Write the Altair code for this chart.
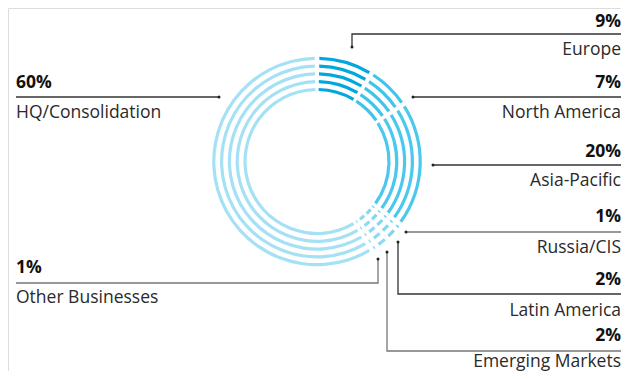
import altair as alt
import pandas as pd

# --- data ---
regions = ["Europe", "North America", "Asia-Pacific", "Russia/CIS",
           "Latin America", "Emerging Markets", "Other Businesses", "HQ/Consolidation"]
shares = [9, 7, 20, 1, 2, 2, 1, 60]
pct_labels = ["9%", "7%", "20%", "1%", "2%", "2%", "1%", "60%"]
seg_colors = ["#00a8de", "#3fc4ec", "#4ac8ee", "#6cd1f1", "#80d7f2", "#8cdbf3", "#98ddf4", "#a5e1f5"]

# --- layout (page pixel coordinates) ---
RX = 621  # right edge for right-aligned labels
label_side = ["right", "right", "right", "right", "right", "right", "left", "left"]
pct_y = [27, 88, 157, 222, 285, 341, 273, 88]
name_y = [55, 118, 186, 253, 316, 367, 303, 118]
leader_pts = [
    [(RX, 34), (352, 34), (352, 47)],
    [(RX, 97), (413, 97)],
    [(RX, 165), (433, 165)],
    [(RX, 232), (406, 232)],
    [(RX, 294), (398, 294), (398, 242)],
    [(RX, 351), (387, 351), (387, 252)],
    [(16, 283), (378, 283), (378, 259)],
    [(16, 97), (219, 97)],
]
leader_col = ["#333333", "#333333", "#333333", "#777777", "#333333", "#777777", "#777777", "#333333"]

W, H = 613, 363
cx, cy = 317 - 8, 161.5 - 8
ring_mid = [103.2, 95.4, 87.6, 79.8, 72.0]
ring_w = 3.2

seg = pd.DataFrame({"region": regions, "share": shares, "idx": list(range(len(regions)))})

xs = alt.Scale(domain=[8, 8 + W], range=[0, W], zero=False, nice=False)
ys = alt.Scale(domain=[8, 8 + H], range=[0, H], zero=False, nice=False)

layers = []
for r in ring_mid:
    layers.append(
        alt.Chart(seg).mark_arc(radius=r + ring_w / 2, radius2=r - ring_w / 2, padAngle=0.032)
        .encode(
            theta=alt.Theta("share:Q", stack=True),
            order=alt.Order("idx:Q"),
            color=alt.Color("region:N", scale=alt.Scale(domain=regions, range=seg_colors), legend=None),
            x=alt.value(cx), y=alt.value(cy),
        )
    )

lines = []
dots = []
for i, pts in enumerate(leader_pts):
    for j, (px, py) in enumerate(pts):
        lines.append({"region": regions[i], "seq": j, "x": px, "y": py, "col": leader_col[i]})
    dots.append({"region": regions[i], "x": pts[-1][0], "y": pts[-1][1]})
ldf = pd.DataFrame(lines)
ddf = pd.DataFrame(dots)

line_layer = alt.Chart(ldf).mark_line(strokeWidth=1.3).encode(
    x=alt.X("x:Q", scale=xs, axis=None),
    y=alt.Y("y:Q", scale=ys, axis=None),
    detail="region:N",
    order="seq:Q",
    color=alt.Color("col:N", scale=None),
)
dot_layer = alt.Chart(ddf).mark_circle(size=9, opacity=1, color="#222222").encode(
    x=alt.X("x:Q", scale=xs, axis=None),
    y=alt.Y("y:Q", scale=ys, axis=None),
)

tdf = pd.DataFrame({
    "region": regions, "pct": pct_labels, "side": label_side,
    "tx": [RX if s == "right" else 16 for s in label_side],
    "py": pct_y, "ny": name_y,
})

FONT = "Open Sans"
FS = 17.5
text_layers = []
for side in ["right", "left"]:
    base = alt.Chart(tdf).transform_filter(alt.datum.side == side)
    text_layers.append(
        base.mark_text(align=side, baseline="alphabetic", font=FONT, fontSize=FS,
                       fontWeight="bold", color="#111111")
        .encode(x=alt.X("tx:Q", scale=xs, axis=None), y=alt.Y("py:Q", scale=ys, axis=None), text="pct:N")
    )
    text_layers.append(
        base.mark_text(align=side, baseline="alphabetic", font=FONT, fontSize=FS,
                       color="#2a2a2a")
        .encode(x=alt.X("tx:Q", scale=xs, axis=None), y=alt.Y("ny:Q", scale=ys, axis=None), text="region:N")
    )

chart = alt.layer(*layers, line_layer, dot_layer, *text_layers).properties(
    width=W, height=H, padding=0, autosize=alt.AutoSizeParams(type="none")
).configure_view(stroke=None).configure(background="white")

chart.save("out.html", embed_options={"renderer": "svg", "actions": False})
